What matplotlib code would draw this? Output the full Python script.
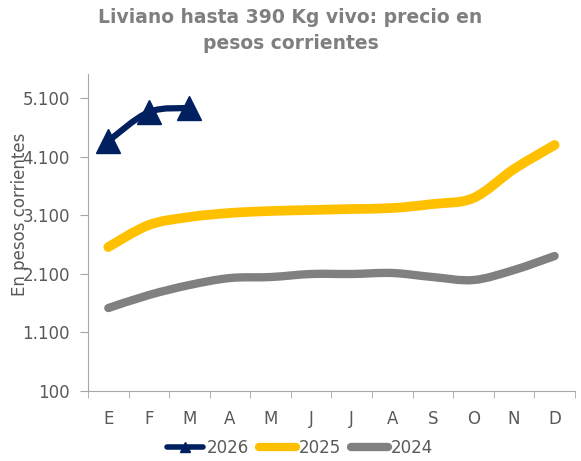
import matplotlib
matplotlib.use('Agg')
import matplotlib.pyplot as plt
from matplotlib.path import Path
from matplotlib.patches import PathPatch
from matplotlib.lines import Line2D
import numpy as np

# Datos
meses = ['E', 'F', 'M', 'A', 'M', 'J', 'J', 'A', 'S', 'O', 'N', 'D']
precio_2026 = [4366, 4861, 4930]
precio_2025 = [2557, 2933, 3069, 3138, 3172, 3189, 3206, 3223, 3291, 3394, 3888, 4298]
precio_2024 = [1516, 1738, 1909, 2028, 2045, 2097, 2097, 2114, 2045, 1994, 2165, 2404]
y_ticks = [100, 1100, 2100, 3100, 4100, 5100]
y_labels = ['100', '1.100', '2.100', '3.100', '4.100', '5.100']

gris_txt = '#595959'


#Curva suavizada estilo Excel (Catmull-Rom -> Bezier)
def curva(ax, valores, color, lw, z):
    x = np.arange(len(valores), dtype=float)
    y = np.array(valores, dtype=float)
    pts = np.column_stack([x, y])
    verts = [pts[0]]
    codes = [Path.MOVETO]
    n = len(pts)
    for i in range(n - 1):
        p0 = pts[i - 1] if i > 0 else pts[i]
        p1 = pts[i]
        p2 = pts[i + 1]
        p3 = pts[i + 2] if i + 2 < n else pts[i + 1]
        c1 = p1 + (p2 - p0) / 6.0
        c2 = p2 - (p3 - p1) / 6.0
        verts += [c1, c2, p2]
        codes += [Path.CURVE4] * 3
    patch = PathPatch(Path(verts, codes), facecolor='none', edgecolor=color,
                      lw=lw, capstyle='round', joinstyle='round', zorder=z)
    ax.add_patch(patch)


fig = plt.figure(figsize=(5.81, 4.61), dpi=100)
ax = fig.add_axes([0.1515, 0.1518, 0.838, 0.6877])

curva(ax, precio_2024, '#808080', 6, 2)
curva(ax, precio_2025, '#FFC000', 7, 3)
curva(ax, precio_2026, '#002060', 4.5, 4)
ax.plot(range(len(precio_2026)), precio_2026, linestyle='none', marker='^',
        markersize=17, color='#002060', zorder=5, clip_on=False)

ax.set_xlim(-0.5, 11.5)
ax.set_ylim(100, 5510)
ax.set_yticks(y_ticks)
ax.set_yticklabels(y_labels)
ax.set_xticks(range(12))
ax.set_xticklabels(meses)
ax.set_xticks(np.arange(-0.5, 12, 1), minor=True)
ax.tick_params(axis='x', which='major', length=0, pad=14, labelsize=12, labelcolor=gris_txt)
ax.tick_params(axis='x', which='minor', length=5, color='#a6a6a6', direction='out')
ax.tick_params(axis='y', length=6, color='#a6a6a6', labelsize=12, labelcolor=gris_txt, pad=7)

for s in ['top', 'right']:
    ax.spines[s].set_visible(False)
for s in ['left', 'bottom']:
    ax.spines[s].set_color('#a6a6a6')

# en el original el titulo del eje se superpone a las etiquetas
fig.text(20 / 581, 1 - 214 / 461, 'En pesos corrientes', rotation=90, ha='center', va='center',
         fontsize=12, color=gris_txt)

fig.text(0.5, 1 - 8 / 461, 'Liviano hasta 390 Kg vivo: precio en\npesos corrientes',
         ha='center', va='top', fontsize=13.5, fontweight='bold', color='#7f7f7f',
         linespacing=1.45)

handles = [
    Line2D([], [], color='#002060', lw=4, marker='^', markersize=7, solid_capstyle='round'),
    Line2D([], [], color='#FFC000', lw=6, solid_capstyle='round'),
    Line2D([], [], color='#808080', lw=6, solid_capstyle='round'),
]
fig.legend(handles, ['2026', '2025', '2024'], loc='center', bbox_to_anchor=(300 / 581, 1 - 448 / 461),
           ncol=3, frameon=False, fontsize=12, labelcolor=gris_txt, handlelength=2.2,
           handletextpad=0.2, columnspacing=0.6)

fig.savefig('out.png', dpi=100)
